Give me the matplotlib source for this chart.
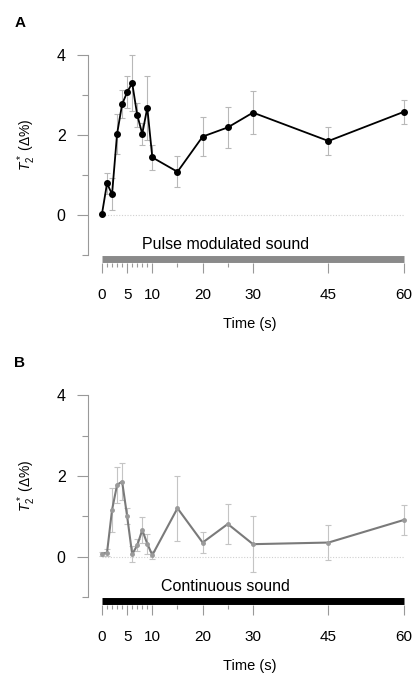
import numpy as np
import matplotlib.pyplot as plt

plt.rcParams['font.family'] = ['Liberation Sans', 'DejaVu Sans']
plt.rcParams['mathtext.fontset'] = 'custom'
plt.rcParams['mathtext.rm'] = 'Liberation Sans'
plt.rcParams['mathtext.it'] = 'Liberation Sans:italic'

# time points (s)
times = [0, 1, 2, 3, 4, 5, 6, 7, 8, 9, 10, 15, 20, 25, 30, 45, 60]

# panel A: pulse modulated sound, T2* change (%)
pulse_mean = [0.03, 0.79, 0.52, 2.03, 2.77, 3.07, 3.30, 2.50, 2.03, 2.68, 1.44,
              1.08, 1.96, 2.19, 2.56, 1.85, 2.58]
pulse_err = [0.0, 0.26, 0.40, 0.50, 0.35, 0.40, 0.69, 0.30, 0.28, 0.80, 0.32,
             0.39, 0.48, 0.52, 0.54, 0.35, 0.30]

# panel B: continuous sound
cont_mean = [0.07, 0.10, 1.16, 1.78, 1.86, 1.00, 0.06, 0.28, 0.66, 0.32, 0.04,
             1.20, 0.35, 0.81, 0.31, 0.35, 0.91]
cont_err = [0.05, 0.08, 0.55, 0.45, 0.45, 0.20, 0.20, 0.15, 0.33, 0.25, 0.10,
            0.80, 0.27, 0.50, 0.70, 0.43, 0.37]

major_ticks = [0, 5, 10, 20, 30, 45, 60]
minor_ticks = [1, 2, 3, 4, 6, 7, 8, 9, 15, 25]

W, H = 414, 681
fig = plt.figure(figsize=(W / 100, H / 100), dpi=100)


def panel(rect, mean, err, line_col, mk_col, ms, lw, err_col, bar_col, bar_text, letter, letter_y):
    ax = fig.add_axes(rect)
    ax.set_xlim(-2.8, 61.5)
    ax.set_ylim(-1.3, 4.3)

    # zero reference line
    ax.plot([0, 60], [0, 0], color="#d0d0d0", lw=0.8, ls=(0, (1, 1.5)), zorder=1)

    ax.errorbar(times, mean, yerr=err, fmt="none", ecolor=err_col, elinewidth=0.8,
                capsize=2, capthick=0.8, zorder=2)
    ax.plot(times, mean, color=line_col, lw=lw, marker="o", ms=ms,
            mfc=mk_col, mec=mk_col, zorder=3)

    # stimulus bar
    ax.plot([0, 60], [-1.1, -1.1], color=bar_col, lw=5, solid_capstyle="butt",
            clip_on=False)
    ax.text(24.5, -0.73, bar_text, ha="center", va="center", fontsize=11.5)

    for s in ["top", "right"]:
        ax.spines[s].set_visible(False)
    ax.spines["bottom"].set_position(("data", -1.2))
    ax.spines["bottom"].set_color("none")
    ax.spines["left"].set_bounds(-1, 4)
    ax.spines["left"].set_color("#999999")
    ax.spines["left"].set_linewidth(0.8)

    ax.set_xticks(major_ticks)
    ax.set_xticks(minor_ticks, minor=True)
    ax.set_yticks([0, 2, 4])
    ax.set_yticks([-1, 1, 3], minor=True)
    ax.tick_params(axis="x", which="major", length=7, width=0.8, color="#999999",
                   pad=11, labelsize=11)
    ax.tick_params(axis="x", which="minor", length=3, width=0.8, color="#999999")
    ax.tick_params(axis="y", which="major", length=8, width=0.8, color="#999999",
                   pad=8, labelsize=11.5)
    ax.tick_params(axis="y", which="minor", length=4, width=0.8, color="#999999")

    ax.set_xlabel("Time (s)", fontsize=10.5, labelpad=11)
    ax.text(-0.188, 0.545, r"$T_2^*$ ($\Delta$%)", transform=ax.transAxes,
            rotation=90, ha="center", va="center", fontsize=10)
    fig.text(20 / W, 1 - letter_y / H, letter, ha="center", va="center",
             fontsize=11, fontweight="bold")
    return ax


panel([87.9 / W, (H - 267) / H, 323.6 / W, 224 / H],
      pulse_mean, pulse_err, "black", "black", 4, 1.3, "#b8b8b8", "#8a8a8a",
      "Pulse modulated sound", "A", 23)
panel([87.9 / W, (H - 609.2) / H, 323.6 / W, 226.2 / H],
      cont_mean, cont_err, "#7a7a7a", "#9a9a9a", 2.5, 1.5, "#c4c4c4", "black",
      "Continuous sound", "B", 363)

fig.savefig("out.png", dpi=100)
